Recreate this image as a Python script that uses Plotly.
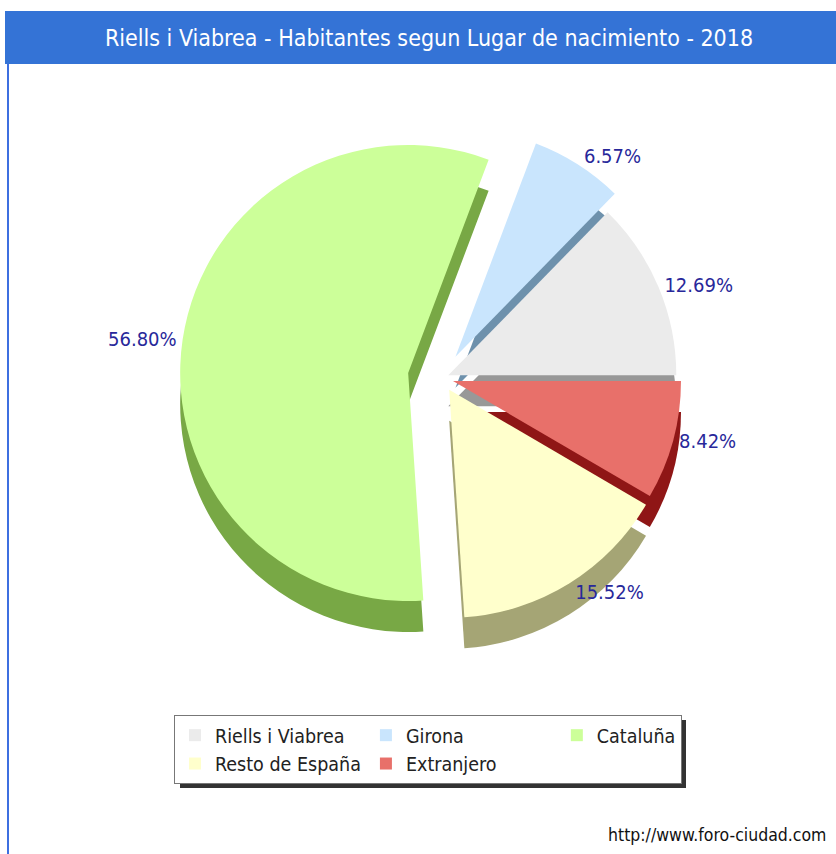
import plotly.graph_objects as go

# ---- data ----
categories = ["Riells i Viabrea", "Girona", "Cataluña", "Resto de España", "Extranjero"]
percentages = [12.69, 6.57, 56.80, 15.52, 8.42]
face_colors = ["#EBEBEB", "#C9E5FD", "#CCFF99", "#FFFFCC", "#E8706A"]
side_colors = ["#989898", "#6E91AC", "#78A845", "#A5A575", "#8F1616"]
pulls = [0.03, 0.11, 0.15, 0.06, 0.05]

title_text = "Riells i Viabrea - Habitantes segun Lugar de nacimiento - 2018"
source_text = "http://www.foro-ciudad.com"

FONT = "DejaVu Sans Condensed, DejaVu Sans, sans-serif"
W, H = 836, 854
ML, MR = 98, 98
GW = W - ML - MR

# pie geometry (pixels): centre and radius
CX, CY, R = 442, 378, 228
half = R * (1 + max(pulls))
dom_x = [(CX - half - ML) / GW, (CX + half - ML) / GW]
dom_y = [(H - CY - half) / H, (H - CY + half) / H]
depth = 31 / H

# plotly's counterclockwise pies put the first slice clockwise of `rotation`;
# shift so the first slice starts at 3 o'clock and runs counterclockwise
rot = 90 - 360 * percentages[0] / sum(percentages)

fig = go.Figure()

# extruded side (3D depth) drawn first
fig.add_trace(go.Pie(
    labels=categories, values=percentages, sort=False,
    direction="counterclockwise", rotation=rot, pull=pulls,
    marker=dict(colors=side_colors, line=dict(width=0)),
    textinfo="none", hoverinfo="skip", showlegend=False,
    domain=dict(x=dom_x, y=[dom_y[0] - depth, dom_y[1] - depth]),
))

# top face
fig.add_trace(go.Pie(
    labels=categories, values=percentages, sort=False,
    direction="counterclockwise", rotation=rot, pull=pulls,
    marker=dict(colors=face_colors, line=dict(width=0)),
    texttemplate="%{value:.2f}%", textposition="outside",
    outsidetextfont=dict(family=FONT, size=20, color="#28289A"),
    hovertemplate="%{label}: %{value:.2f}%<extra></extra>",
    domain=dict(x=dom_x, y=dom_y),
))

px = lambda x: (x - ML) / GW
py = lambda y: 1 - y / H

# legend box (pixels) used for its drop shadow
LEG_L, LEG_R, LEG_T, LEG_B = 175, 681, 715, 783

fig.update_layout(
    width=W, height=H,
    margin=dict(l=ML, r=MR, t=0, b=0),
    paper_bgcolor="white", plot_bgcolor="white",
    title=dict(text=title_text, x=429 / W, xanchor="center",
               y=1 - 38 / H, yanchor="middle",
               font=dict(family=FONT, size=23, color="white")),
    legend=dict(orientation="h", x=px(428), xanchor="center",
                y=py(LEG_T), yanchor="top",
                bgcolor="white", bordercolor="#777777", borderwidth=1,
                font=dict(family=FONT, size=19.5, color="#222222"),
                traceorder="normal"),
    shapes=[
        dict(type="rect", xref="paper", yref="paper",
             x0=px(5), x1=px(W + 2), y0=py(64), y1=py(11),
             fillcolor="#3473D6", line=dict(width=0), layer="below"),
        dict(type="line", xref="paper", yref="paper",
             x0=px(8), x1=px(8), y0=py(64), y1=py(H + 2),
             line=dict(color="#3D6FE0", width=2), layer="below"),
        dict(type="rect", xref="paper", yref="paper",
             x0=px(LEG_L + 5), x1=px(LEG_R + 5), y0=py(LEG_B + 5), y1=py(LEG_T + 5),
             fillcolor="#333333", line=dict(width=0), layer="below"),
    ],
    annotations=[
        dict(text=source_text, xref="paper", yref="paper",
             x=px(828), y=py(835), xanchor="right", yanchor="middle",
             showarrow=False, font=dict(family=FONT, size=17.5, color="#111111")),
    ],
)

fig.write_html("out.html",
               config={"displayModeBar": False},
               post_script="document.body.style.margin='0';document.body.style.padding='0';")
